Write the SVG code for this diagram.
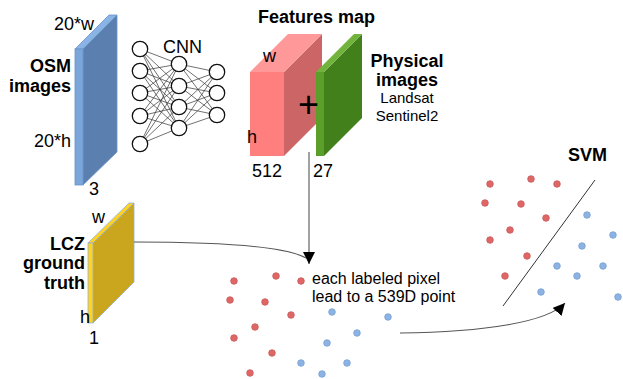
<svg xmlns="http://www.w3.org/2000/svg" width="623" height="379" viewBox="0 0 623 379">
<style>
text{font-family:"Liberation Sans",Arial,sans-serif;fill:#000}
.b{font-weight:bold;font-size:18px}
.r{font-size:18px}
.s{font-size:15px}
.e{text-anchor:end}
.m{text-anchor:middle}
.nn line{stroke:#333;stroke-width:0.7}
.nn circle{fill:#fff;stroke:#111;stroke-width:1.3}
.red{fill:#e06666;stroke:#c65b5b;stroke-width:0.8}
.blue{fill:#8db3e2;stroke:#739fd3;stroke-width:0.8}
.conn{fill:none;stroke:#555;stroke-width:1.1}
</style>
<defs>
<marker id="ah" viewBox="0 0 10 10" refX="10" refY="5" markerWidth="12" markerHeight="12" markerUnits="userSpaceOnUse" orient="auto">
<path d="M0,0 L10,5 L0,10 z" fill="#000"/>
</marker>
<circle id="dot" r="3.3"/>
</defs>

<g id="osm">
<polygon points="83,49 117,15 117,152 83,185" fill="#5b7fae" stroke="#6a95c8" stroke-width="0.8"/>
<polygon points="75,49 109,15 117,15 83,49" fill="#8ab4e6" stroke="#6a95c8" stroke-width="0.8"/>
<rect x="75" y="49" width="8" height="136" fill="#7aa6dc" stroke="#6a95c8" stroke-width="0.8"/>
<text class="r" x="54" y="30">20*w</text>
<text class="b e" x="71" y="72">OSM</text>
<text class="b e" x="71" y="92">images</text>
<text class="r e" x="71" y="147">20*h</text>
<text class="r" x="89" y="195">3</text>
</g>

<g id="cnn" class="nn">
<g>
<line x1="140" y1="49" x2="179" y2="64"/><line x1="140" y1="49" x2="179" y2="86"/><line x1="140" y1="49" x2="179" y2="107"/><line x1="140" y1="49" x2="179" y2="128"/>
<line x1="140" y1="71" x2="179" y2="64"/><line x1="140" y1="71" x2="179" y2="86"/><line x1="140" y1="71" x2="179" y2="107"/><line x1="140" y1="71" x2="179" y2="128"/>
<line x1="140" y1="93" x2="179" y2="64"/><line x1="140" y1="93" x2="179" y2="86"/><line x1="140" y1="93" x2="179" y2="107"/><line x1="140" y1="93" x2="179" y2="128"/>
<line x1="140" y1="116" x2="179" y2="64"/><line x1="140" y1="116" x2="179" y2="86"/><line x1="140" y1="116" x2="179" y2="107"/><line x1="140" y1="116" x2="179" y2="128"/>
<line x1="140" y1="144" x2="179" y2="64"/><line x1="140" y1="144" x2="179" y2="86"/><line x1="140" y1="144" x2="179" y2="107"/><line x1="140" y1="144" x2="179" y2="128"/>
<line x1="179" y1="64" x2="217" y2="72"/><line x1="179" y1="64" x2="217" y2="93"/><line x1="179" y1="64" x2="217" y2="115"/>
<line x1="179" y1="86" x2="217" y2="72"/><line x1="179" y1="86" x2="217" y2="93"/><line x1="179" y1="86" x2="217" y2="115"/>
<line x1="179" y1="107" x2="217" y2="72"/><line x1="179" y1="107" x2="217" y2="93"/><line x1="179" y1="107" x2="217" y2="115"/>
<line x1="179" y1="128" x2="217" y2="72"/><line x1="179" y1="128" x2="217" y2="93"/><line x1="179" y1="128" x2="217" y2="115"/>
</g>
<circle cx="140" cy="49" r="7.7"/><circle cx="140" cy="71" r="7.7"/><circle cx="140" cy="93" r="7.7"/><circle cx="140" cy="116" r="7.7"/><circle cx="140" cy="144" r="7.7"/>
<circle cx="179" cy="64" r="7.7"/><circle cx="179" cy="86" r="7.7"/><circle cx="179" cy="107" r="7.7"/><circle cx="179" cy="128" r="7.7"/>
<circle cx="217" cy="72" r="7.7"/><circle cx="217" cy="93" r="7.7"/><circle cx="217" cy="115" r="7.7"/>
<text class="r" x="163" y="53">CNN</text>
</g>

<g id="features">
<text class="b" x="258" y="23">Features map</text>
<polygon points="284,72 322,34 322,118 284,156" fill="#cc6666"/>
<polygon points="250,72 288,34 322,34 284,72" fill="#ff9999"/>
<rect x="250" y="72" width="34" height="84" fill="#ff7f7f"/>
<text class="r" x="263" y="62">w</text>
<text class="r" x="247" y="143">h</text>
<text class="r" x="252" y="177">512</text>
</g>

<g id="physical">
<polygon points="324,72 362,34 362,118 324,156" fill="#41801a"/>
<polygon points="316,72 354,34 362,34 324,72" fill="#72b33c"/>
<rect x="316" y="72" width="8" height="84" fill="#5c9e2a"/>
<text class="r" x="313" y="177">27</text>
<text class="b m" x="407" y="67">Physical</text>
<text class="b m" x="407" y="86">images</text>
<text class="s m" x="407" y="103">Landsat</text>
<text class="s m" x="407" y="121">Sentinel2</text>
</g>

<text id="plus" x="298" y="117" style="font-size:36px">+</text>

<g id="lcz">
<polygon points="93,243 134,203 134,282 93,323" fill="#c9a61d" stroke="#8fb0d8" stroke-width="0.8"/>
<polygon points="88,243 129,203 134,203 93,243" fill="#ffd320" stroke="#8fb0d8" stroke-width="0.8"/>
<rect x="88" y="243" width="5" height="80" fill="#ffd320" stroke="#8fb0d8" stroke-width="0.8"/>
<text class="r" x="92" y="223">w</text>
<text class="b e" x="85" y="250">LCZ</text>
<text class="b e" x="85" y="269">ground</text>
<text class="b e" x="85" y="289">truth</text>
<text class="r" x="80" y="323">h</text>
<text class="r" x="89" y="344">1</text>
</g>

<g id="connectors">
<line class="conn" x1="309" y1="152" x2="309" y2="264" marker-end="url(#ah)"/>
<path class="conn" d="M134,242 C220,242 285,246 306,258"/>
<path class="conn" d="M400,333 C485,332 548,322 565,303" marker-end="url(#ah)"/>
<line x1="595" y1="180" x2="503" y2="306" stroke="#333" stroke-width="1"/>
</g>

<g id="points">
<g class="red">
<use href="#dot" x="234" y="281"/><use href="#dot" x="276" y="276"/><use href="#dot" x="301" y="281"/><use href="#dot" x="230" y="300"/><use href="#dot" x="265" y="302"/><use href="#dot" x="291" y="315"/><use href="#dot" x="255" y="327"/><use href="#dot" x="234" y="338"/><use href="#dot" x="272" y="353"/><use href="#dot" x="250" y="373"/>
</g>
<g class="blue">
<use href="#dot" x="332" y="312"/><use href="#dot" x="388" y="317"/><use href="#dot" x="357" y="333"/><use href="#dot" x="327" y="343"/><use href="#dot" x="301" y="363"/><use href="#dot" x="347" y="363"/><use href="#dot" x="322" y="374"/>
</g>
</g>

<g id="svm">
<text class="b" x="568" y="161">SVM</text>
<g class="red">
<use href="#dot" x="490" y="184"/><use href="#dot" x="531" y="179"/><use href="#dot" x="557" y="184"/><use href="#dot" x="485" y="203"/><use href="#dot" x="521" y="204"/><use href="#dot" x="546" y="218"/><use href="#dot" x="510" y="230"/><use href="#dot" x="490" y="240"/><use href="#dot" x="527" y="256"/><use href="#dot" x="505" y="276"/>
</g>
<g class="blue">
<use href="#dot" x="587" y="215"/><use href="#dot" x="613" y="235"/><use href="#dot" x="582" y="246"/><use href="#dot" x="557" y="266"/><use href="#dot" x="603" y="266"/><use href="#dot" x="577" y="276"/><use href="#dot" x="541" y="292"/><use href="#dot" x="618" y="297"/>
</g>
</g>

<text id="label" style="font-size:16px"><tspan x="312" y="284">each labeled pixel</tspan><tspan x="312" y="302">lead to a 539D point</tspan></text>
</svg>
